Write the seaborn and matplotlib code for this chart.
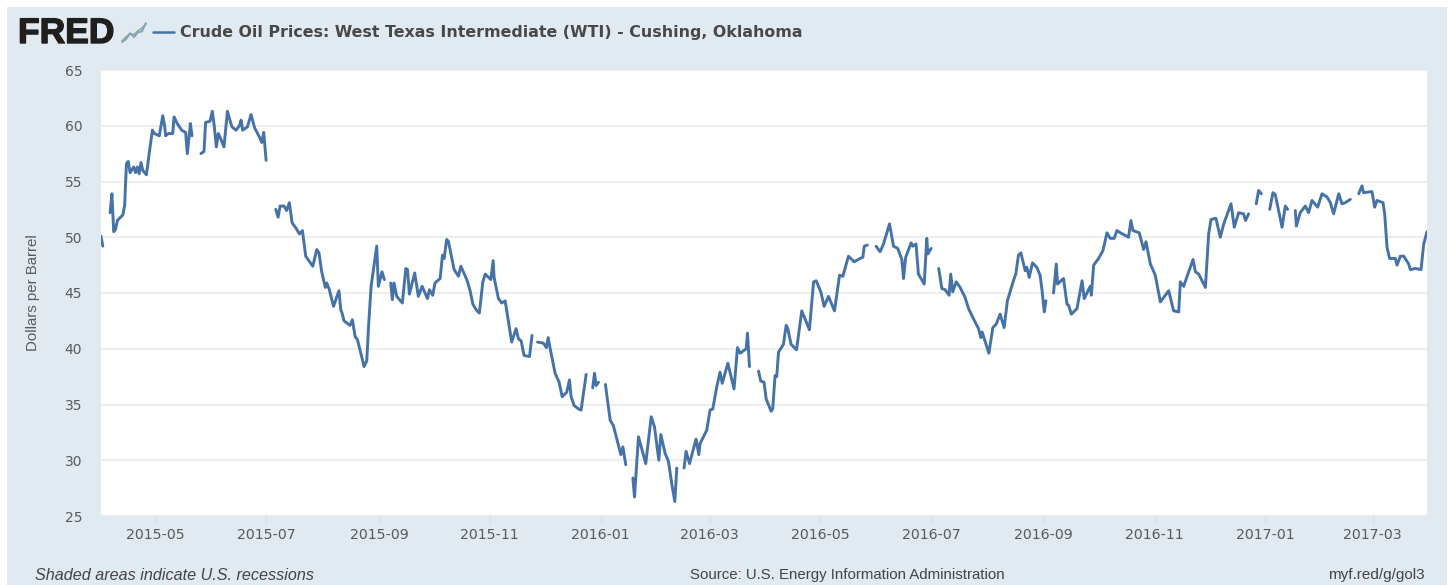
import numpy as np
import pandas as pd
import matplotlib
matplotlib.use('Agg')
import matplotlib.pyplot as plt
import matplotlib.dates as mdates
import matplotlib.patheffects as pe
from matplotlib.patches import Rectangle
import seaborn as sns

# Values: days since 2015-04-01 and dollars per barrel
start_date = '2015-04-01'
days = [
    0, 1,
    5, 6, 7, 8, 9, 12, 13, 14, 15, 16, 18, 19, 20, 21, 22, 23, 25, 26.6, 28.3, 29.4, 32.1,
    34, 35, 35.6, 37.1, 39.5, 40.2, 42, 44.4, 46.6, 47.5, 48.5, 49.2, 50.1,
    55, 56.7, 57.6, 60, 61.3, 62.4, 63.5, 64.6, 65.5, 67.7, 69.6, 71, 72.1, 74.3, 76.2,
    77.1, 78, 80.6, 82.6, 84.6, 87.2, 88.5, 89.6, 90.9,
    96.2, 97.5, 98.6, 100.8, 102.2, 103.7, 105.2, 107.4, 109.2, 110.9, 112.7, 116.6, 118.8,
    120, 121.5, 123.5, 124.3, 125.7, 128, 131, 132, 132.7, 133.8, 137.1, 138.4, 139.9,
    141.2, 144.1, 144.8, 146.3, 147.4, 148.7, 151.8, 152.7, 154.7, 156,
    159.5, 160.4, 161.3, 162.8, 165.9, 167.8, 168.7, 169.8, 172.7, 174.7, 176.8, 179.7,
    180.8, 182.6, 183.9, 186.7, 188, 188.9, 190.3, 191.3, 194.4, 196.8, 198.1, 201.4,
    203.2, 204.7, 206.5, 208.3, 210.2, 211.5, 214.6, 215.9, 216.4, 218.8, 220.6, 222.5,
    226.1, 228.5, 229.8, 231.3, 232.9, 235.9, 237.3,
    240.3, 243.6, 245.2, 246.2, 247.3, 250, 252.2, 253.9, 256.4, 257.9, 258.8, 260.5,
    262.9, 264.3, 267.1,
    270.7, 271.7, 272.6, 273.9,
    277.7, 280.3, 282.1, 286.2, 287.3, 288, 288.9,
    292.8, 293.7, 295.9, 299.9, 302.9, 304.7, 307.1, 308.2, 310.6, 312.4, 314.2, 315.9, 317,
    321, 322.1, 324, 327.6, 329.1, 329.8, 333.5, 335.3, 336.8, 339, 340.8, 342, 345.1,
    348.5, 350.4, 351.9, 355.2, 355.9, 357,
    362, 363.2, 365, 366.2, 368.9, 369.8, 371.1, 372, 373, 375.7, 377.2, 378.1, 379.9,
    382.9, 385.8, 390, 392.3, 393.7, 396.3, 398.1, 400.5, 403.8, 406.6, 408.4, 411.5,
    414.6, 417.9, 419.4, 420.2, 421.9,
    426.7, 428.9, 430.8, 434.1, 436.3, 438.6, 440.9, 441.8, 443, 446, 446.9, 448.7, 450,
    453.2, 454.6, 455.2, 457,
    461.2, 462.9, 464.7, 466.9, 467.8, 468.9, 470.8, 473, 475.7, 477.6, 480.3, 483.1,
    484.4, 485.1, 488.8, 491, 492.8, 495, 497.2, 499, 502.3, 503.6, 505.1, 506.4, 508.8,
    509.7, 511, 512.8, 515.2, 517, 518.1, 519.3, 520.2,
    524.4, 525.9, 526.6, 529.9, 531.8, 532.7, 534.2, 537.3, 540.1, 541.3, 544.6, 545.2,
    546.5, 549.2, 551.6, 553.8, 555.6, 557.8, 559.3, 561.2, 565.7, 567, 568.1, 571.6, 574,
    575.3, 577.7, 580.4, 583.2, 587.8, 590.5, 593.3, 594.2, 596, 601.2, 602.5, 604.3,
    608, 609.8, 611.1, 613.8, 616.2, 618.1, 622.1, 623.9, 626.3, 629, 630.1, 631.8,
    636, 637.3, 638.8,
    643.4, 645.2, 646.5, 650.2, 652, 653.3,
    657.5, 658.1, 660.2, 663, 664.8, 666.7, 669.8, 672.2, 675, 676.8, 678.6, 681.4, 683.2,
    685, 687.8,
    692.4, 694.2, 695.1, 699.7, 701.2, 702.5, 705.8, 706.7, 708, 709.4, 712.6, 713.5,
    715.3, 717.2, 719.9, 720.8, 723.6, 726.7, 728.2, 730,
]
prices = [
    50.1, 49.2,
    52.2, 53.9, 50.5, 50.7, 51.5, 52.0, 52.8, 56.6, 56.8, 55.8, 56.3, 55.8, 56.3, 55.7, 56.7, 56, 55.6, 57.6, 59.6, 59.3, 59.1,
    60.9, 60, 59.1, 59.3, 59.3, 60.8, 60.2, 59.6, 59.4, 57.5, 59, 60.2, 59.1,
    57.5, 57.7, 60.3, 60.4, 61.3, 59.9, 58.1, 59.3, 59, 58.1, 61.3, 60.5, 59.9, 59.6, 60,
    60.5, 59.6, 59.9, 61, 59.8, 59, 58.5, 59.4, 56.9,
    52.5, 51.8, 52.8, 52.8, 52.4, 53.1, 51.3, 50.8, 50.3, 50.6, 48.3, 47.4, 48.9,
    48.6, 46.9, 45.5, 45.9, 45.3, 43.8, 45.2, 43.5, 43.2, 42.5, 42.1, 42.6, 41.1,
    40.8, 38.9, 38.4, 38.9, 42.3, 45.6, 49.2, 45.6, 46.9, 46.2,
    45.9, 44.4, 45.9, 44.7, 44.1, 47.2, 47.1, 44.9, 46.8, 44.7, 45.6, 44.5,
    45.3, 44.8, 45.9, 46.3, 48.4, 48.1, 49.8, 49.6, 47.1, 46.5, 47.4, 46.2,
    45.2, 44, 43.5, 43.2, 46, 46.7, 46.2, 47.9, 46.4, 44.5, 44.1, 44.3,
    40.6, 41.8, 40.9, 40.7, 39.4, 39.3, 41.2,
    40.6, 40.5, 40.1, 41, 40, 37.8, 37, 35.7, 36.1, 37.2, 35.7, 34.9,
    34.6, 34.5, 37.7,
    36.5, 37.8, 36.7, 37,
    36.8, 33.6, 33.1, 30.5, 31.2, 30.5, 29.6,
    28.4, 26.7, 32.1, 29.7, 33.9, 33, 30, 32.3, 30.6, 29.9, 27.9, 26.3, 29.3,
    29.3, 30.8, 29.7, 31.9, 30.5, 31.5, 32.7, 34.5, 34.6, 36.6, 37.9, 36.9, 38.7,
    36.4, 40.1, 39.6, 40, 41.4, 38.4,
    38, 37.1, 37, 35.5, 34.4, 34.6, 37.6, 37.5, 39.7, 40.4, 42.1, 41.8, 40.4,
    39.9, 43.4, 41.7, 46, 46.1, 45.1, 43.8, 44.7, 43.4, 46.6, 46.5, 48.3,
    47.8, 48.1, 48.2, 49.2, 49.3,
    49.2, 48.7, 49.4, 51.2, 49.2, 49, 48, 46.3, 48.2, 49.5, 49.2, 49.4, 46.7,
    45.8, 49.9, 48.5, 49,
    47.2, 45.4, 45.3, 44.8, 46.7, 45.1, 46, 45.5, 44.6, 43.6, 42.7, 41.8,
    41, 41.5, 39.6, 41.9, 42.2, 43.1, 41.9, 44.3, 46.1, 46.7, 48.4, 48.6, 47,
    47.3, 46.4, 47.7, 47.3, 46.6, 45.2, 43.3, 44.3,
    45, 47.6, 45.8, 46.3, 44, 43.9, 43.1, 43.6, 46.1, 44.5, 45.6, 44.8,
    47.5, 48.1, 48.8, 50.4, 49.9, 49.9, 50.6, 50.4, 50, 51.5, 50.6, 50.4, 48.9,
    49.6, 47.6, 46.6, 44.2, 45.2, 43.4, 43.3, 46, 45.6, 48, 46.9, 46.7,
    45.5, 50.3, 51.6, 51.7, 50, 51.2, 53, 50.9, 52.2, 52.1, 51.5, 52.1,
    53, 54.2, 53.9,
    52.5, 54, 53.8, 50.9, 52.8, 52.5,
    52.4, 51, 52.2, 52.8, 52.2, 53.3, 52.7, 53.9, 53.6, 53.1, 52.1, 53.9, 53,
    53.1, 53.4,
    53.9, 54.6, 54, 54.1, 52.7, 53.3, 53.1, 52.1, 49.1, 48.1, 48.1, 47.5,
    48.3, 48.3, 47.6, 47.1, 47.2, 47.1, 49.4, 50.5,
]
# Days where the line picks up again after a hole in the series
gap_starts = [5, 55, 96.2, 159.5, 240.3, 270.7, 277.7, 292.8, 321, 362, 426.7,
              461.2, 524.4, 636, 643.4, 657.5, 692.4]
y_ticks = [25, 30, 35, 40, 45, 50, 55, 60, 65]
x_tick_labels = ['2015-05', '2015-07', '2015-09', '2015-11', '2016-01', '2016-03',
                 '2016-05', '2016-07', '2016-09', '2016-11', '2017-01', '2017-03']

# Small icon next to the logo
icon_x = [0, 1, 2, 3, 4, 5, 6]
icon_green = [0.5, 1.5, 2.2, 2.0, 3.0, 3.6, 4.6]
icon_blue = [0.2, 0.9, 2.4, 1.4, 2.6, 2.8, 4.9]

line_color = '#4572a7'
panel_color = '#e1e9f1'
text_color = '#5a5a5a'

df = pd.DataFrame({
    'date': pd.Timestamp(start_date) + pd.to_timedelta(days, unit='D'),
    'price': prices,
    'segment': np.searchsorted(gap_starts, days, side='right'),
})

sns.set_theme(style='white')
W, H = 1453, 585
fig = plt.figure(figsize=(W / 100, H / 100), dpi=100, facecolor='white')
fig.patches.append(Rectangle((7 / W, 0), 1440 / W, 578 / H, transform=fig.transFigure,
                             facecolor=panel_color, edgecolor='none', zorder=-1))

ax = fig.add_axes([101 / W, 1 - 516 / H, 1326 / W, 446 / H], facecolor='white')
sns.lineplot(data=df, x='date', y='price', units='segment', estimator=None,
             color=line_color, linewidth=2.1, ax=ax)

ax.set_xlim(pd.Timestamp(start_date), pd.Timestamp(start_date) + pd.Timedelta(days=730))
ax.set_ylim(25, 65)
ax.set_yticks(y_ticks)
ax.set_xticks(pd.to_datetime([s + '-01' for s in x_tick_labels]))
ax.xaxis.set_major_formatter(mdates.DateFormatter('%Y-%m'))
ax.grid(axis='y', color='#efeeee', linewidth=1.6)
ax.set_axisbelow(True)
sns.despine(ax=ax, left=True, bottom=True)
ax.tick_params(axis='x', length=6, width=0.8, color='#d5dde5', labelsize=10.2,
               labelcolor=text_color, pad=2.5, bottom=True)
ax.tick_params(axis='y', length=0, labelsize=10, labelcolor=text_color, pad=13.5)
ax.set_xlabel('')
ax.set_ylabel('Dollars per Barrel', fontsize=10.8, color=text_color, family='Liberation Sans')
ax.yaxis.set_label_coords(-61 / 1326, 0.5)

# Header: logo, icon, legend key and series name
fig.text(18 / W, 1 - 33.5 / H, 'FRED', fontsize=25.5, fontweight='bold', family='Liberation Sans',
         color='#1f1f1f', va='center', ha='left',
         path_effects=[pe.withStroke(linewidth=1.0, foreground='#1f1f1f')])
icon = fig.add_axes([121 / W, 1 - 43 / H, 26 / W, 21 / H])
sns.lineplot(x=icon_x, y=icon_green, color='#8fb58a', linewidth=1.3, ax=icon)
sns.lineplot(x=icon_x, y=icon_blue, color='#7f9fc0', linewidth=1.3, ax=icon)
icon.set_axis_off()
fig.add_artist(plt.Line2D([153 / W, 174 / W], [1 - 32 / H, 1 - 32 / H], color=line_color,
                          linewidth=1.8, transform=fig.transFigure))
fig.text(180 / W, 1 - 32 / H, 'Crude Oil Prices: West Texas Intermediate (WTI) - Cushing, Oklahoma',
         fontsize=11.45, fontweight='bold', color='#484848', va='center', ha='left')

# Footer notes
fig.text(35 / W, 1 - 575 / H, 'Shaded areas indicate U.S. recessions', fontsize=11.6,
         style='italic', family='Liberation Sans', color='#444444', va='center', ha='left')
fig.text(847 / W, 1 - 575 / H, 'Source: U.S. Energy Information Administration', fontsize=10.85,
         family='Liberation Sans', color='#444444', va='center', ha='center')
fig.text(1425 / W, 1 - 575 / H, 'myf.red/g/gol3', fontsize=11, family='Liberation Sans',
         color='#444444', va='center', ha='right')

fig.savefig('out.png', dpi=100, facecolor=fig.get_facecolor())
